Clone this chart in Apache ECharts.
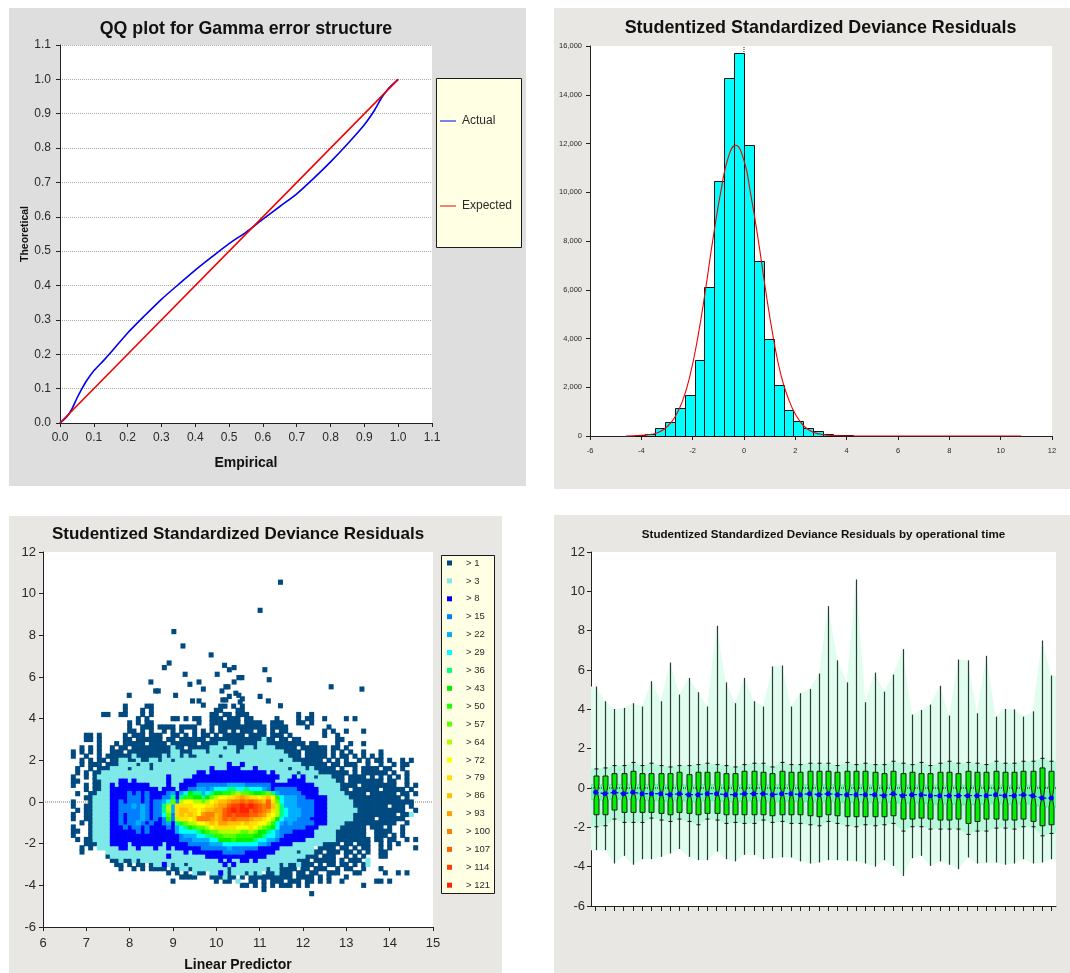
<!DOCTYPE html>
<html><head><meta charset="utf-8">
<style>html,body{margin:0;padding:0;background:#fff}#c{width:1070px;height:973px}</style>
<script src="https://cdn.jsdelivr.net/npm/echarts@6/dist/echarts.min.js"></script>
</head><body><div id="c"></div>
<script>
// ---- Panel 1: QQ plot
const qqActual = [[0,0],[.02,.018],[.035,.04],[.05,.072],[.065,.1],[.08,.125],[.1,.152],[.13,.183],[.15,.205],[.2,.262],[.25,.312],[.3,.36],[.35,.403],[.4,.445],[.45,.484],[.5,.522],[.55,.555],[.57,.57],[.6,.593],[.65,.63],[.7,.667],[.75,.712],[.8,.76],[.85,.812],[.9,.868],[.93,.91],[.95,.945],[.97,.972],[1,1]];
const qqExpected = [[0,0],[1,1]];
// ---- Panel 2: histogram
const histEdges = [-4.23,-3.85,-3.46,-3.08,-2.69,-2.31,-1.92,-1.54,-1.15,-0.77,-0.38,0,0.385,0.77,1.15,1.54,1.92,2.31,2.69,3.08,3.46,3.85,4.23];
const histCounts = [40,100,330,570,1150,1670,3100,6100,10450,14680,15730,11930,7200,3970,2100,1050,620,340,190,90,50,50];
const curveX = [-4.6,-4,-3.6,-3.3,-3,-2.7,-2.4,-2.1,-1.8,-1.5,-1.2,-0.9,-0.6,-0.33,0,0.24,0.54,0.84,1.14,1.44,1.74,2.04,2.34,2.64,2.94,3.3,3.6,4,5,7,9,10.8];
const curveY = [0,30,70,160,380,760,1420,2500,4050,6000,8150,10050,11480,11930,11300,10050,8150,6000,4050,2500,1500,820,400,180,80,30,10,0,0,0,0,0];
// ---- Panel 3: density scatter
const densityLabels = ['> 1','> 3','> 8','> 15','> 22','> 29','> 36','> 43','> 50','> 57','> 64','> 72','> 79','> 86','> 93','> 100','> 107','> 114','> 121'];
const densityColors = ['#004a80','#7fe8e8','#0000ff','#0080ff','#00b0ff','#00ffff','#00ff80','#00f000','#20ff00','#60ff00','#b0ff00','#ffff00','#ffe000','#ffc000','#ffa000','#ff8000','#ff6000','#ff4000','#ff2000'];
const outlierPoints = [[11.48,10.55],[11.01,9.2],[9.02,8.18],[9.23,7.49],[9.88,7.06],[8.91,6.67],[8.8,6.45],[10.19,6.56],[10.3,6.35],[10.41,6.45],[11.12,6.35],[9.28,6.13],[10.02,6.13],[11.22,5.87],[10.52,5.97],[10.59,5.97],[10.41,5.76],[9.6,5.76],[8.49,5.76],[9.39,5.65],[10.22,5.53],[10.27,5.53],[9.7,5.42],[12.65,5.53],[13.36,5.42],[8.6,5.33],[8.66,5.33],[10.13,5.33],[10.45,5.22],[7.99,5.12],[9.06,5.12],[10.3,5.07],[10.52,5.12],[11.01,5.07],[10.15,4.9],[10.22,4.9],[10.6,4.95],[9.45,4.85],[9.6,4.85],[11.2,4.85],[10.55,4.8],[9.7,4.65],[11.48,4.62]];
const densityColStart = 6.7, densityColStep = 0.1, densityRowStart = 4.6, densityRowStep = -0.2;
const densityRows = [
"..........|..a....aa.|..........|....aa.a.a|..........|..........|..........|..........",
"..........|..a...a.a.|..........|...aa...aa|..........|..........|..........|..........",
".......aa.|.aa...a.a.|..........|..aa.aa.aa|a.........|..a..a....|..........|..........",
"..........|.....a.a..|...aa.a.aa|..aaa.aaa.|aa.....a..|..a.aa..a.|...a.a....|..........",
"..........|...a.a.aa.|.........a|..aaaaaaa.|aaaa..aaa.|..aa.a....|..........|..........",
"..........|...a..aaa.|aaaa.aaaa.|..a.aaaaaa|aaaaa.aaaa|....a....a|..........|..........",
"..........|...aa.a.a.|.a.a.a..a.|a.a.aa.a.a|aa.aa.a.aa|........a.|a..a...a..|..........",
"...aa.a...|..a.aaa.aa|a..aa.a.a.|aa.a.aaaaa|.aaaa.aaa.|a.......a.|.a........|..........",
"...aa.a...|..aa.aaaaa|a.aa.aaaaa|a.aaaaaaaa|aaaabaa.aa|.aa.......|.aa.......|..........",
"......a...|a.aaaaa.aa|aa.aaaaaa.|aaaabbaaaa|aaabbaaaaa|aaaa.aa...|.a..a..a..|..........",
"..a.a.a..a|.aa.aaaaaa|aaabaa.aaa|aabbbabbaa|bbabbbbaaa|aa.aaaaaa.|aa.a......|..........",
"a.a.a.a..a|aa.aaaaaaa|aaabbaaabb|babbbbbbab|bbbbbbbbba|aaa.aaaaa.|a.a.a..a..|.a........",
"a..a..a.aa|aaaabaaaaa|ababbabaab|bbbbabbbbb|bbbbbbbbbb|aaa.aaaaa.|a.aa.a.a.a|.a........",
"..a.a.aa.a|abbaabaabb|abbabbbbbb|bbbbbbbbbb|bbbbbbbbab|baaaaaaa.a|.a.a..a.a.|aa.a..a.a.",
"..a.aaa.aa|abbbbabbab|bbbbbbbbbb|bbbbbbcbbc|bbbbbbbbbb|bbbaaaaaa.|aa.aaa..a.|.a..a.aa..",
".a..a.aaab|bbbabbbbab|bbbbbbbbbb|bbcbbbcccb|bbcbbbbbbb|abbbabaaaa|a.a..a.aaa|a.aa..a...",
".a.a.aabbb|bbbbbbbbbb|bbbbbbbbbc|cbcccccccc|cccccbcbbb|bbabbbbaaa|aaaa.a.aaa|aaa.a..a..",
"a..a.abbbb|bbbbbbbbbb|bbcbbbbbcc|cccccccccc|ccccccccbb|bcbcbbabbb|aaa.aaaa.a|.a.a.a.a..",
"aa...aabbb|bccbcbbbbb|bbcbbbcccc|cccccccccc|cccccccbbb|ccccbbbbbb|baa.aaaaaa|aa.aa..a..",
"a..a.aabbc|bcccccccbb|bbcbbccccd|ddddddeeee|ddddddcccc|ccccccbbbb|bbaaaa.aaa|aaaaa..a.a",
"...a.aabbc|cccccccccc|bcccbccdde|edefffggff|gfffedcddd|ddcccccbbb|bbaa.aaaaa|a.aaaaa.a.",
".a..aabbbc|cccdcdcdcc|ccdecefhgg|efghhiijkj|jihhijgedd|dddccccbbb|bbbaaaaa.a|aaaaa.aa.a",
"...aabbbbc|cccdddcdcc|cddgcgiihh|ghjkllmmno|nmmlmnlife|eeddcccccb|bbbbaaaaaa|aaaaaa.a..",
"a...abbbbc|cdcdddcdcd|defjdkllkk|jklmnnoppq|pqponqmjfe|eeddddcccb|bbbbbaaaaa|aaaaaaaaa.",
"a..aabbbbc|cdddededcd|dgkemmmmll|lmmnooqrrs|rsrqpqnkge|eeddddcccb|bbbbbaaaaa|aaa.aaa.a.",
".a.aabbbbc|cdddddedcd|dgkemnnmml|mnnooqrsrs|sqrqpomkgf|eeedddcccb|bbbbbbaaaa|aaaaaaa..a",
"a..aabbbbc|cdcdddedcd|dfjdmnmnml|oppnoqrqrr|rqqpomlkgf|eeedddcccb|bbbbbaaaaa|aaaaa.aab.",
"a..aabbbbc|cdcdddedcd|cdidkmmlmp|pponoqpqpp|ponnmlkhfe|eedddccccb|bbbbbaaaaa|.aaaaaa...",
"..a.abbbbc|cdcddedcdc|cdecgijkkl|lmnmoonnnm|nmmllkifed|edddddcccb|bbbaaaaaaa|aaaaa..a..",
"a...abbbbc|ccdcddcdcc|ccdcefghij|jklmmmmmll|lmlkjihfdd|ddddcccbbb|bbaaaaaa.a|aa.a..a...",
"aa..abbbbc|cccccdcdcc|cccceffffg|hijjkkkkkj|jkjhhgfedd|dcccccbbbb|baaaaaaa..|aaaa..a...",
"a...abbbbc|cccccccccc|cccccdeeef|fggiijjjii|iihhgffedc|ccccccbbbb|baaaaaaa..|aaa.a.a...",
".a.aabbbbc|cccccccccc|cccccdddee|eeffhhhihh|hhgffeedcc|ccccbbbbbb|baaaaaaaa.|aa.aa..a.a",
"...aaabbbc|cccbcccccc|cbcccccddd|ddeeefffff|fffeedcccc|cbbbbbbbaa|aa.aa.aaa.|.a.a.a....",
"..a.a.bbbb|bccbbcbbbc|bbcbcccccc|ddddddeddd|dddcccccbb|bbbbbb.aaa|a.aa.a.aa.|.a.a.....a",
"..a.....bb|bbbbbbbbbb|bbbbbbcbcc|cccccddddd|cccccccbbb|bbabbbaa.a|aa.aa.a.a.|.aa.......",
"........ab|bbbbbbbbbb|bbcbbbbbbb|bccccccccc|cccccbbbbb|bbbbaaa.aa|a..a.a.a..|.aa.......",
".........a|abaababbbb|bbbbbbbbbb|bbbbcbcbbc|cbcbbbbbbb|bbaaa.aaaa|a.a.aaa.b.|..........",
"..........|aa.a.aa.ab|bcbabbabbb|bbbbbcbcbb|bbbbbbbbab|aabaaa.a.a|a.aa.a.ab.|..........",
"..........|.a..a.a.aa|aa.aabbabb|bbbbbbabbb|bbbbbabbaa|aa.aa.aaa.|.a.aa..a..|.a........",
"..........|..........|..a.a.a.ba|a.bbcbabbb|abab.aabaa|a.aa.aa..a|aa...aa...|..a..a.a..",
"..........|..........|.....aaaa.|..aaabaa.a|.aaaaaaaaa|a.aaaa.a.a|...a......|..........",
"..........|..........|...a......|...a.aa.b.|.aa.a.aaa.|aaa.aa.a.a|..a.......|aa.a......",
"..........|..........|..........|.........a|a.a.a.a.aa|a.a.a.....|.......a..|..........",
"..........|..........|..........|..........|....a.....|..........|..........|..........",
"..........|..........|..........|..........|..........|.....a....|..........|.........."
];
// ---- Panel 4: box plots by operational time
const whiskerHigh = [5.16,4.41,4.02,4.07,4.31,4.14,5.43,4.41,6.38,4.75,5.6,4.87,4.14,8.25,5.37,4.31,5.6,4.41,4.14,6.18,6.23,4.14,4.82,5.03,5.82,9.25,6.49,5.37,10.6,4.36,5.87,4.9,5.77,7.06,3.73,3.97,4.24,5.2,3.68,6.53,6.49,3.8,6.72,3.63,4.02,4.0,3.63,3.9,7.5,5.72];
const whiskerLow = [-3.16,-3.16,-3.84,-3.45,-3.9,-3.62,-3.62,-3.5,-3.33,-3.1,-3.5,-3.67,-3.67,-3.23,-3.62,-3.73,-3.4,-3.4,-3.62,-3.57,-3.53,-3.53,-3.73,-3.84,-3.79,-3.67,-3.67,-3.7,-3.73,-3.84,-4.0,-3.67,-3.96,-4.47,-3.57,-3.45,-3.96,-3.73,-3.9,-4.13,-3.53,-3.84,-3.79,-3.79,-3.9,-3.84,-3.62,-3.84,-3.79,-3.62];
const capHigh = [.97,1.02,1.14,1.14,1.3,1.14,1.26,1.14,1.07,1.14,1.14,1.19,1.26,1.19,1.14,1.07,1.19,1.26,1.26,1.07,1.3,1.19,1.19,1.26,1.26,1.26,1.14,1.3,1.19,1.26,1.19,1.19,1.36,1.26,1.19,1.3,1.14,1.26,1.36,1.26,1.3,1.26,1.19,1.36,1.26,1.26,1.36,1.36,1.51,1.36];
const capLow = [-1.97,-1.92,-1.58,-1.75,-1.75,-1.75,-1.53,-1.63,-1.7,-1.58,-1.7,-1.87,-1.58,-1.63,-1.8,-1.75,-1.8,-1.8,-1.63,-1.75,-1.7,-1.8,-1.8,-1.87,-1.92,-1.7,-1.8,-1.92,-1.97,-1.87,-1.92,-1.87,-1.8,-2.19,-1.97,-1.97,-2.09,-2.09,-2.09,-2.09,-2.36,-2.19,-2.19,-2.04,-2.04,-2.09,-1.97,-1.97,-2.43,-2.31];
const boxQ3 = [.61,.61,.73,.73,.85,.73,.73,.73,.73,.8,.68,.8,.8,.8,.73,.73,.85,.85,.8,.73,.85,.8,.8,.85,.85,.85,.8,.85,.85,.85,.8,.73,.85,.73,.8,.73,.73,.8,.8,.73,.85,.8,.8,.85,.8,.8,.85,.85,1.02,.85];
const boxQ1 = [-1.36,-1.36,-1.12,-1.24,-1.24,-1.24,-1.24,-1.29,-1.36,-1.24,-1.29,-1.36,-1.29,-1.29,-1.36,-1.36,-1.36,-1.36,-1.36,-1.41,-1.36,-1.36,-1.36,-1.41,-1.46,-1.36,-1.41,-1.46,-1.46,-1.46,-1.46,-1.46,-1.41,-1.58,-1.58,-1.53,-1.58,-1.63,-1.63,-1.58,-1.8,-1.7,-1.58,-1.58,-1.63,-1.63,-1.58,-1.7,-1.92,-1.87];
const boxMedian = [-.22,-.29,-.22,-.29,-.22,-.29,-.29,-.29,-.34,-.29,-.34,-.34,-.29,-.29,-.34,-.34,-.29,-.29,-.29,-.34,-.29,-.29,-.34,-.29,-.34,-.29,-.34,-.34,-.34,-.34,-.34,-.39,-.29,-.39,-.34,-.34,-.39,-.39,-.39,-.39,-.39,-.39,-.39,-.34,-.39,-.39,-.34,-.39,-.51,-.51];
const notchHigh = [.2,.18,.22,.2,.24,.2,.2,.2,.16,.2,.16,.18,.2,.2,.18,.16,.2,.22,.2,.18,.2,.2,.18,.2,.18,.2,.18,.18,.2,.18,.18,.16,.2,.16,.18,.18,.16,.18,.16,.16,.16,.16,.16,.18,.16,.16,.18,.16,.1,.1];
const notchLow = [-.62,-.66,-.58,-.64,-.6,-.66,-.66,-.68,-.72,-.66,-.72,-.74,-.68,-.68,-.74,-.74,-.7,-.7,-.7,-.76,-.7,-.7,-.74,-.72,-.76,-.7,-.76,-.76,-.76,-.76,-.78,-.8,-.74,-.84,-.8,-.8,-.84,-.86,-.84,-.86,-.9,-.86,-.86,-.8,-.86,-.86,-.8,-.88,-1.0,-1.0];

// ---- helpers built from the arrays
const opTimes = whiskerHigh.map((_, i) => String(i + 1));
const edgeBand = arr => [[0.5, arr[0]]].concat(arr.map((v, i) => [i + 1, v]), [[50.5, arr[arr.length - 1]]]);
const densitySeriesData = densityLabels.map(() => []);
outlierPoints.forEach(p => densitySeriesData[0].push(p));
densityRows.forEach((row, r) => {
  row.replace(/\|/g, '').split('').forEach((ch, c) => {
    if (ch === '.') return;
    densitySeriesData[ch.charCodeAt(0) - 97].push([
      +(densityColStart + c * densityColStep).toFixed(2),
      +(densityRowStart + r * densityRowStep).toFixed(2)]);
  });
});

const FONT = '"Liberation Sans", Arial, sans-serif';
function axisBase(fs, tick, margin) {
  return {
    axisLine: {show: true, onZero: false, lineStyle: {color: '#222', width: 1}},
    axisTick: {show: true, length: tick || 4, lineStyle: {color: '#222'}},
    axisLabel: {fontSize: fs, color: '#2a2a2a', fontFamily: FONT, margin: margin || 6},
    splitLine: {show: false}
  };
}
function nameStyle(fs) { return {fontSize: fs, fontWeight: 'bold', color: '#111', fontFamily: FONT}; }
const panel = (x, y, w, h, fill) => ({type: 'rect', z: -10, silent: true, shape: {x, y, width: w, height: h}, style: {fill}});
const legendBox = (x, y, w, h) => ({type: 'rect', z: 1, silent: true, shape: {x: x + .5, y: y + .5, width: w, height: h}, style: {fill: '#ffffe3', stroke: '#1a1a1a', lineWidth: 1}});
const title = (text, cx, top, fs) => ({text, left: cx, top, textAlign: 'center', textStyle: {fontSize: fs, fontWeight: 'bold', color: '#111', fontFamily: FONT}});

const bandSeries = (arr, color, z) => ({
  type: 'line', xAxisIndex: 4, yAxisIndex: 3, data: edgeBand(arr), symbol: 'none', silent: true, z,
  lineStyle: {width: 0, opacity: 0}, areaStyle: {color, opacity: 1, origin: 0}
});

const option = {
  animation: false,
  backgroundColor: '#fff',
  title: [
    title('QQ plot for Gamma error structure', 241, 15, 17.8),
    title('Studentized Standardized Deviance Residuals', 815.5, 14, 17.9),
    title('Studentized Standardized Deviance Residuals', 233, 521, 17),
    title('Studentized Standardized Deviance Residuals by operational time', 818.5, 524, 11.6)
  ],
  graphic: [
    panel(9, 8, 517, 478, '#dedede'),
    panel(554, 8, 516, 481, '#e8e7e3'),
    panel(9, 516, 493, 457, '#e8e7e3'),
    panel(554, 515, 516, 458, '#e8e7e3'),
    legendBox(436, 78, 85, 169),
    legendBox(441, 555, 53, 338)
  ],
  grid: [
    {left: 60, top: 45, width: 372, height: 378, show: true, backgroundColor: '#fff', borderWidth: 0},
    {left: 590, top: 46, width: 462, height: 390, show: true, backgroundColor: '#fff', borderWidth: 0},
    {left: 43, top: 552, width: 390, height: 375, show: true, backgroundColor: '#fff', borderWidth: 0},
    {left: 591, top: 552, width: 465, height: 354, show: true, backgroundColor: '#fff', borderWidth: 0}
  ],
  legend: [
    {left: 440, top: 115, padding: 0, orient: 'vertical', itemWidth: 16, itemHeight: 14, itemGap: 73, z: 5,
     icon: 'path://M0 6.5H16V7.5H0Z', data: ['Actual', 'Expected'], selectedMode: false,
     textStyle: {fontSize: 12, color: '#2a2a2a', fontFamily: FONT, padding: [0, 0, 0, 1]}},
    {left: 447, top: 558, padding: 0, orient: 'vertical', itemWidth: 5, itemHeight: 5, itemGap: 7.9, z: 5,
     icon: 'rect', data: densityLabels, selectedMode: false,
     textStyle: {fontSize: 9.5, lineHeight: 10, color: '#2a2a2a', fontFamily: FONT, padding: [0, 0, 0, 9]}}
  ],
  xAxis: [
    Object.assign(axisBase(12), {type: 'value', gridIndex: 0, min: 0, max: 1.1, interval: .1, name: 'Empirical', nameLocation: 'middle', nameGap: 33, nameTextStyle: nameStyle(14), axisLabel: {fontSize: 12, color: '#2a2a2a', fontFamily: FONT, margin: 9, formatter: v => v.toFixed(1)}}),
    Object.assign(axisBase(7.5, 4, 11), {type: 'value', gridIndex: 1, min: -6, max: 12, interval: 2}),
    Object.assign(axisBase(13, 4, 10), {type: 'value', gridIndex: 2, min: 6, max: 15, interval: 1, name: 'Linear Predictor', nameLocation: 'middle', nameGap: 31, nameTextStyle: nameStyle(14)}),
    Object.assign(axisBase(12), {type: 'category', gridIndex: 3, data: opTimes, axisTick: {show: true, length: 5, alignWithLabel: true, interval: 0, lineStyle: {color: '#222'}}, axisLabel: {show: false}}),
    {type: 'value', gridIndex: 3, min: .5, max: 50.5, show: false, splitLine: {show: false}}
  ],
  yAxis: [
    Object.assign(axisBase(12), {type: 'value', gridIndex: 0, min: 0, max: 1.1, interval: .1, name: 'Theoretical', nameLocation: 'middle', nameGap: 28, nameTextStyle: nameStyle(10.5), axisLabel: {fontSize: 12, color: '#2a2a2a', fontFamily: FONT, margin: 9, formatter: v => v.toFixed(1)}, splitLine: {show: true, lineStyle: {type: 'dotted', color: '#a8a8a8', width: 1}}}),
    Object.assign(axisBase(7.5), {type: 'value', gridIndex: 1, min: 0, max: 16000, interval: 2000, axisLabel: {fontSize: 7.5, color: '#2a2a2a', fontFamily: FONT, margin: 8, formatter: v => v.toLocaleString('en-US')}}),
    Object.assign(axisBase(13, 4, 7), {type: 'value', gridIndex: 2, min: -6, max: 12, interval: 2}),
    Object.assign(axisBase(13), {type: 'value', gridIndex: 3, min: -6, max: 12, interval: 2})
  ],
  series: [
    {name: 'Actual', type: 'line', xAxisIndex: 0, yAxisIndex: 0, data: qqActual, smooth: .25, symbol: 'none', lineStyle: {color: '#0000ee', width: 1.6}, itemStyle: {color: '#0000ee'}, z: 3},
    {name: 'Expected', type: 'line', xAxisIndex: 0, yAxisIndex: 0, data: qqExpected, symbol: 'none', lineStyle: {color: '#ee0000', width: 1.6}, itemStyle: {color: '#ee0000'}, z: 4},

    {type: 'line', xAxisIndex: 1, yAxisIndex: 1, data: [[0, 0], [0, 16000]], symbol: 'none', silent: true, lineStyle: {type: 'dotted', color: '#222', width: 1}, z: 2},
    {type: 'custom', xAxisIndex: 1, yAxisIndex: 1, z: 3, silent: true,
     data: histCounts.map((v, i) => [histEdges[i], histEdges[i + 1], v]),
     encode: {x: [0, 1], y: 2},
     renderItem: (p, api) => {
       const a = api.coord([api.value(0), 0]), b = api.coord([api.value(1), api.value(2)]);
       return {type: 'rect', shape: {x: Math.round(a[0]) + .5, y: Math.round(b[1]) + .5, width: Math.round(b[0]) - Math.round(a[0]), height: Math.round(a[1]) - Math.round(b[1])}, style: {fill: '#00ffff', stroke: '#111', lineWidth: 1}};
     }},
    {type: 'line', xAxisIndex: 1, yAxisIndex: 1, data: curveX.map((x, i) => [x, curveY[i]]), smooth: true, symbol: 'none', silent: true, lineStyle: {color: '#ee0000', width: 1.1}, z: 4},

    {type: 'line', xAxisIndex: 2, yAxisIndex: 2, data: [[6, 0], [15, 0]], symbol: 'none', silent: true, lineStyle: {type: 'dotted', color: '#777', width: 1}, z: 1},
    ...densityLabels.map((name, i) => ({
      name, type: 'scatter', xAxisIndex: 2, yAxisIndex: 2, data: densitySeriesData[i],
      symbol: 'rect', symbolSize: [5, 5.2], itemStyle: {color: densityColors[i], opacity: 1}, silent: true, z: 2 + i * 0.01, progressive: 0
    })),

    bandSeries(whiskerHigh, '#e0fdf0', 1),
    bandSeries(whiskerLow, '#e0fdf0', 1),
    bandSeries(capHigh, '#b7f9d9', 1.1),
    bandSeries(capLow, '#b7f9d9', 1.1),
    bandSeries(notchHigh, '#6cf6a6', 1.2),
    bandSeries(notchLow, '#6cf6a6', 1.2),
    {type: 'line', xAxisIndex: 4, yAxisIndex: 3, data: [[.5, 0], [50.5, 0]], symbol: 'none', silent: true, lineStyle: {type: 'dotted', color: '#111', width: 1}, z: 1.5},
    {type: 'custom', xAxisIndex: 3, yAxisIndex: 3, z: 2, silent: true,
     data: opTimes.map((t, i) => [i, whiskerLow[i], boxQ1[i], boxMedian[i], boxQ3[i], whiskerHigh[i], capLow[i], capHigh[i], notchLow[i], notchHigh[i]]),
     encode: {x: 0, y: [1, 5]},
     renderItem: (p, api) => {
       const idx = api.value(0);
       const cy = k => api.coord([idx, api.value(k)])[1];
       const x = Math.round(api.coord([idx, 0])[0]) + .5;
       const hw = 2.5, nw = 1;
       const poly = [[x - hw, cy(4)], [x + hw, cy(4)], [x + hw, cy(9)], [x + nw, cy(3)], [x + hw, cy(8)], [x + hw, cy(2)], [x - hw, cy(2)], [x - hw, cy(8)], [x - nw, cy(3)], [x - hw, cy(9)]];
       return {type: 'group', children: [
         {type: 'line', shape: {x1: x, y1: cy(1), x2: x, y2: cy(5)}, style: {stroke: '#2c3b34', lineWidth: 1.2}},
         {type: 'line', shape: {x1: x - 2, y1: cy(6), x2: x + 2, y2: cy(6)}, style: {stroke: '#111', lineWidth: 1}},
         {type: 'line', shape: {x1: x - 2, y1: cy(7), x2: x + 2, y2: cy(7)}, style: {stroke: '#111', lineWidth: 1}},
         {type: 'polygon', shape: {points: poly}, style: {fill: '#00f000', stroke: '#1a1a1a', lineWidth: 1}}
       ]};
     }},
    {type: 'line', xAxisIndex: 3, yAxisIndex: 3, data: boxMedian, symbol: 'circle', symbolSize: 5, silent: true, z: 3, itemStyle: {color: '#0000ff'}, lineStyle: {color: '#0000ff', width: 1.3, type: [3, 2]}}
  ]
};
const chart = echarts.init(document.getElementById('c'), null, {renderer: 'canvas'});
chart.setOption(option);
</script></body></html>
